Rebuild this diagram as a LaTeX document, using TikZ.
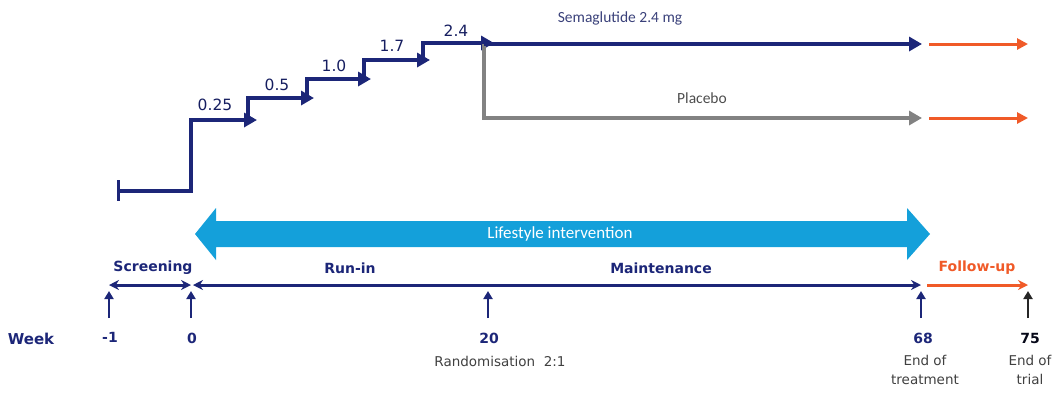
\documentclass[tikz,border=0pt]{standalone}
\usepackage{fontspec}
\setmainfont{DejaVu Sans}
\newfontfamily\carlito{Carlito}
\usetikzlibrary{arrows.meta}
\definecolor{navy}{RGB}{28,38,120}
\definecolor{orng}{RGB}{240,90,40}
\definecolor{gry}{RGB}{130,130,130}
\definecolor{lblue}{RGB}{20,160,218}
\tikzset{
  stepline/.style={navy,line width=4.5pt,-{Triangle[length=13pt,width=14pt]}},
  armline/.style={line width=4pt,-{Triangle[length=13pt,width=14pt]}},
  tline/.style={navy,line width=3pt},
  uparr/.style={navy,line width=2.2pt,-{Triangle[length=8pt,width=9pt]}},
  dose/.style={font=\fontsize{15.5}{17}\selectfont,text=navy!80!black},
  phase/.style={font=\bfseries\fontsize{14}{16}\selectfont,text=navy},
  wk/.style={font=\bfseries\fontsize{14}{16}\selectfont,text=navy},
  lbl/.style={font=\fontsize{13.5}{19}\selectfont,text=black!75,align=center},
}
\begin{document}
\begin{tikzpicture}[x=1pt,y=-1pt]
\useasboundingbox (0,0) rectangle (1052,392);
% titration steps
\coordinate (s0) at (118,191);
\coordinate (s1) at (191,191);
\coordinate (t1) at (257,120);
\coordinate (t2) at (314,98);
\coordinate (t3) at (371,79);
\coordinate (t4) at (430,60);
\coordinate (t5) at (494,43);
\draw[navy,line width=3pt] (118,180) -- (118,201);
\draw[stepline] (s0) -- (s1) |- (t1);
\draw[stepline] (248,122) |- (t2);
\draw[stepline] (307,100) |- (t3);
\draw[stepline] (364,81) |- (t4);
\draw[stepline] (423,62) |- (t5);
\node[dose] (d1) at (215,105) {0.25};
\node[dose] (d2) at (277,85) {0.5};
\node[dose] (d3) at (334,66) {1.0};
\node[dose] (d4) at (392,46) {1.7};
\node[dose] (d5) at (456,31) {2.4};
% arms
\coordinate (br) at (484,44);
\coordinate (semaE) at (922,44);
\coordinate (plaE) at (922,118);
\draw[gry,armline] (br) |- (plaE);
\draw[navy,armline] (br) -- (semaE);
\draw[orng,line width=3pt,-{Triangle[length=11pt,width=11pt]}] (929,44) coordinate (f1s) -- (1028,44) coordinate (f1e);
\draw[orng,line width=3pt,-{Triangle[length=11pt,width=11pt]}] (929,118) coordinate (f2s) -- (1028,118) coordinate (f2e);
\node[font=\carlito\fontsize{15.5}{17}\selectfont,text=navy!70!gray] (sema) at (620,18) {Semaglutide 2.4 mg};
\node[font=\carlito\fontsize{15.5}{17}\selectfont,text=black!70] (pla) at (702,98) {Placebo};
% lifestyle intervention
\fill[lblue] (195,234) -- (216,208) -- (216,221) -- (907,221) -- (907,208) -- (930,234) -- (907,260) -- (907,247) -- (216,247) -- (216,260) -- cycle;
\node[font=\carlito\fontsize{17}{19}\selectfont,text=white] (life) at (560,234) {Lifestyle intervention};
% timeline
\coordinate (wm1) at (109,285);
\coordinate (w0) at (191,285);
\coordinate (w20) at (488,285);
\coordinate (w68) at (921,285);
\coordinate (w75) at (1028,285);
\draw[tline,{Stealth[length=10pt,width=10pt]}-{Stealth[length=10pt,width=10pt]}] (wm1) -- (w0);
\draw[tline,{Stealth[length=10pt,width=10pt]}-{Stealth[length=10pt,width=10pt]}] ([xshift=2pt]w0) -- (w68);
\draw[orng,line width=3pt,-{Stealth[length=10pt,width=10pt]}] ([xshift=6pt]w68) -- (w75);
\node[phase] (scr) at (153,268) {Screening};
\node[phase] (run) at (350,268) {Run-in};
\node[phase] (mai) at (661,268) {Maintenance};
\node[phase,text=orng] (fol) at (977,268) {Follow-up};
% up arrows
\foreach \n/\x in {am1/109,a0/191,a20/488,a68/921}{
  \draw[uparr] (\x,318) coordinate (\n) -- (\x,291);
}
\draw[uparr,black!85] (1028,318) coordinate (a75) -- (1028,291);
\node[wk,font=\bfseries\fontsize{15}{17}\selectfont] (week) at (31,339) {Week};
\node[wk] (lm1) at (110,337) {-1};
\node[wk] (l0) at (192,338) {0};
\node[wk] (l20) at (489,338) {20};
\node[wk] (l68) at (923,338) {68};
\node[wk,text=black!80!navy] (l75) at (1030,338) {75};
\node[lbl] (rand) at (500,361) {Randomisation\ \ 2:1};
\node[lbl] (eot) at (925,370) {End of\\treatment};
\node[lbl] (eotr) at (1030,370) {End of\\trial};
\end{tikzpicture}
\end{document}
